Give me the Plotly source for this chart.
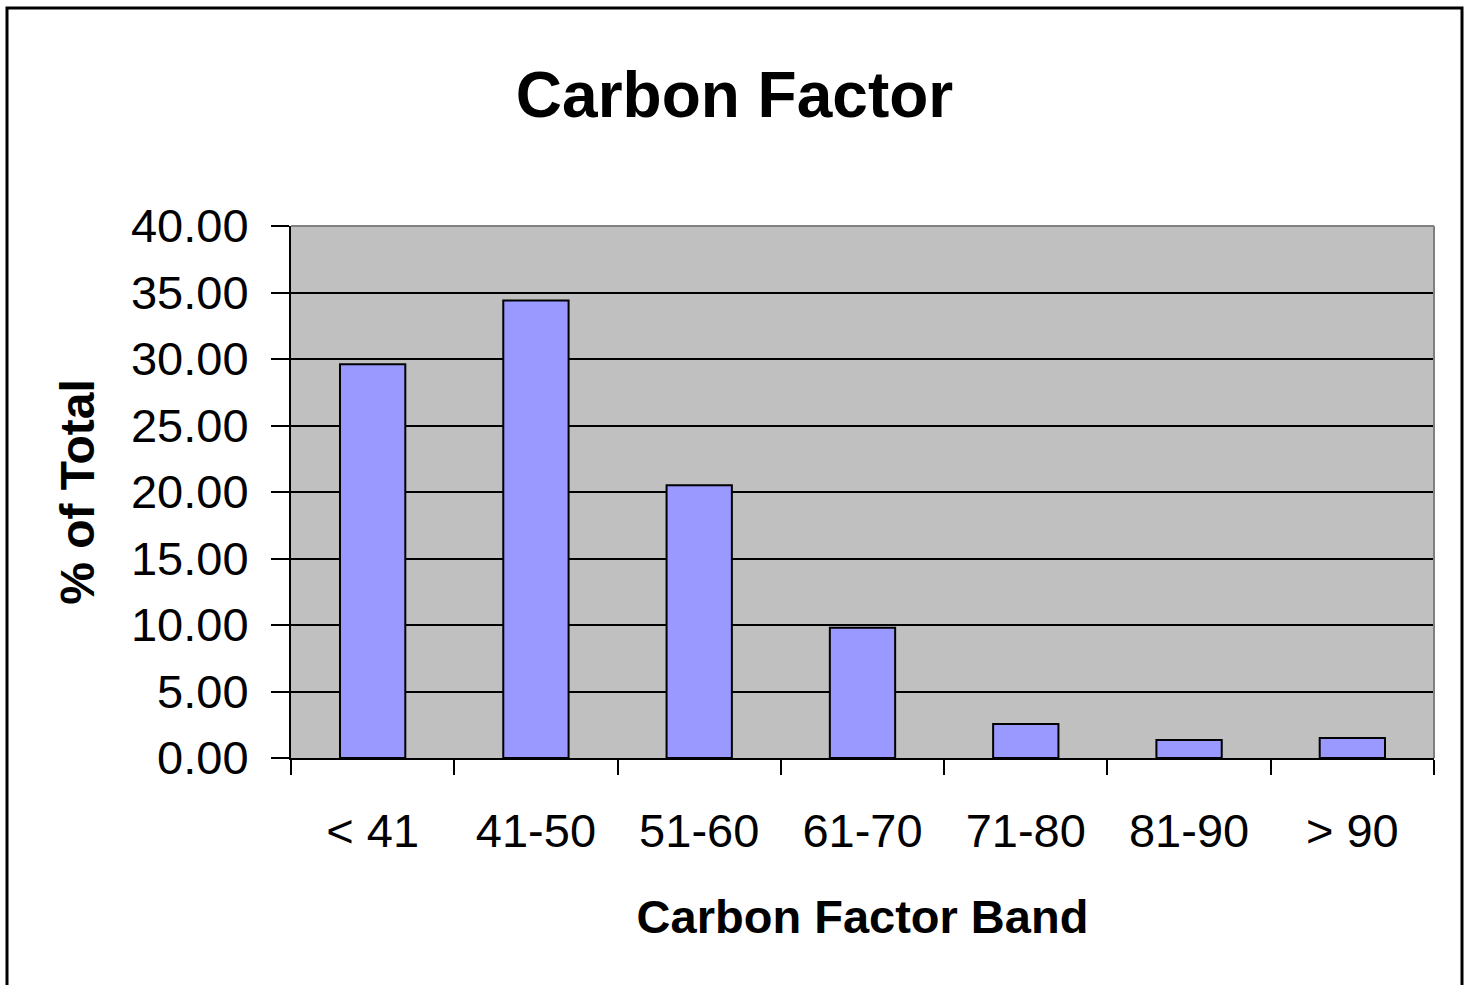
import plotly.graph_objects as go

categories = ["< 41", "41-50", "51-60", "61-70", "71-80", "81-90", "> 90"]
values = [29.6, 34.4, 20.5, 9.8, 2.55, 1.35, 1.5]
y_ticks = [0, 5, 10, 15, 20, 25, 30, 35, 40]

W, H = 1466, 985
L, R, T, B = 291, 1434, 226, 758
pw, ph = R - L, B - T

def px(x):
    return (x - L) / pw

def py(y):
    return (B - y) / ph

font = "Liberation Sans, Arial, sans-serif"

fig = go.Figure(go.Bar(
    x=categories, y=values,
    marker=dict(color="#9999ff", line=dict(color="black", width=2)),
))

fig.update_layout(
    width=W, height=H,
    margin=dict(l=L, r=W - R, t=T, b=H - B),
    paper_bgcolor="white", plot_bgcolor="#c0c0c0",
    bargap=0.6, showlegend=False,
    font=dict(family=font, color="black"),
    title=dict(text="<b>Carbon Factor</b>", font=dict(size=64, family=font, color="black"),
               x=(517 + 952) / 2 / W, xanchor="center", xref="container",
               y=1 - 95 / H, yanchor="middle", yref="container"),
    xaxis=dict(
        title=dict(text="<b>Carbon Factor Band</b>", font=dict(size=47), standoff=44),
        tickfont=dict(size=47), ticks="outside", ticklen=15, tickwidth=2, tickcolor="black",
        tickson="boundaries", ticklabelstandoff=31,
        showline=True, linecolor="black", linewidth=2, showgrid=False,
    ),
    yaxis=dict(
        title=dict(text="<b>% of Total</b>", font=dict(size=48), standoff=21),
        range=[0, 40], tickvals=y_ticks, ticktext=[f"{v:.2f}" for v in y_ticks],
        tickfont=dict(size=47), ticks="outside", ticklen=18, tickwidth=2, tickcolor="black",
        ticklabelstandoff=13,
        showline=True, linecolor="black", linewidth=2,
        showgrid=True, gridcolor="black", gridwidth=2, zeroline=False,
    ),
    shapes=[
        dict(type="line", xref="paper", yref="paper", x0=0, x1=1, y0=1, y1=1,
             line=dict(color="#808080", width=2)),
        dict(type="line", xref="paper", yref="paper", x0=1, x1=1, y0=0, y1=1,
             line=dict(color="#808080", width=2)),
        dict(type="rect", xref="paper", yref="paper",
             x0=px(7), x1=px(1462), y0=py(8), y1=py(995),
             line=dict(color="black", width=3)),
    ],
)

fig.write_html("out.html")
